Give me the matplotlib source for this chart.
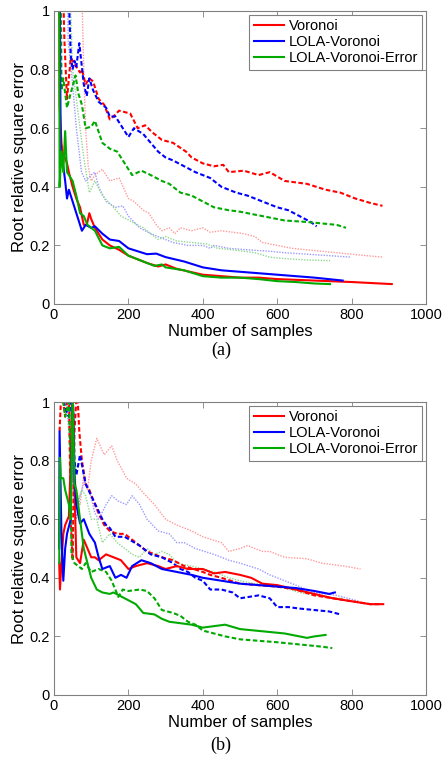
import matplotlib
matplotlib.use('Agg')
import matplotlib.pyplot as plt

plt.rcParams['font.family'] = ['Liberation Sans', 'DejaVu Sans']

# ---------------- panel (a) ----------------
a_vor_solid_x = [14, 15, 20, 25, 30, 35, 40, 50, 60, 70, 80, 88, 95, 100, 110, 130, 150, 175, 200, 250, 280, 300, 330, 400, 450, 500, 550, 600, 700, 800, 908]
a_vor_solid_y = [1.2, 0.68, 0.55, 0.5, 0.5, 0.48, 0.45, 0.4, 0.36, 0.33, 0.27, 0.27, 0.31, 0.29, 0.26, 0.22, 0.2, 0.185, 0.165, 0.14, 0.128, 0.135, 0.12, 0.1, 0.095, 0.09, 0.09, 0.085, 0.08, 0.075, 0.068]
a_lv_solid_x = [15, 18, 25, 30, 35, 40, 45, 55, 65, 75, 85, 100, 110, 130, 150, 175, 200, 225, 250, 275, 300, 350, 400, 450, 500, 550, 600, 650, 700, 776]
a_lv_solid_y = [1.2, 0.52, 0.47, 0.42, 0.36, 0.39, 0.37, 0.33, 0.29, 0.25, 0.27, 0.26, 0.265, 0.24, 0.22, 0.215, 0.19, 0.18, 0.17, 0.172, 0.16, 0.145, 0.125, 0.115, 0.11, 0.105, 0.1, 0.095, 0.09, 0.08]
a_lve_solid_x = [14, 15, 20, 25, 30, 35, 50, 60, 70, 80, 90, 100, 110, 130, 150, 175, 200, 250, 270, 290, 300, 350, 400, 450, 500, 550, 600, 650, 700, 742]
a_lve_solid_y = [1.2, 0.4, 0.52, 0.45, 0.59, 0.45, 0.42, 0.37, 0.31, 0.3, 0.27, 0.26, 0.25, 0.2, 0.19, 0.195, 0.165, 0.14, 0.13, 0.135, 0.125, 0.115, 0.095, 0.09, 0.09, 0.085, 0.078, 0.075, 0.07, 0.068]

a_vor_dash_x = [22, 28, 35, 45, 55, 70, 75, 85, 95, 105, 120, 135, 150, 160, 175, 205, 225, 245, 265, 290, 320, 355, 370, 400, 430, 455, 470, 510, 550, 580, 620, 680, 730, 770, 810, 850, 883]
a_vor_dash_y = [1.2, 0.9, 0.7, 0.84, 0.82, 0.79, 0.8, 0.75, 0.77, 0.76, 0.7, 0.68, 0.63, 0.64, 0.66, 0.65, 0.6, 0.61, 0.585, 0.56, 0.55, 0.52, 0.5, 0.48, 0.47, 0.475, 0.45, 0.455, 0.44, 0.45, 0.42, 0.41, 0.39, 0.38, 0.36, 0.345, 0.335]
a_lv_dash_x = [36, 45, 50, 55, 60, 68, 80, 88, 95, 105, 120, 140, 150, 165, 185, 200, 215, 240, 260, 280, 300, 320, 350, 380, 420, 450, 490, 520, 560, 600, 630, 660, 690, 706]
a_lv_dash_y = [1.2, 0.85, 0.8, 0.83, 0.81, 0.89, 0.75, 0.71, 0.77, 0.73, 0.69, 0.67, 0.64, 0.64, 0.6, 0.57, 0.6, 0.58, 0.55, 0.52, 0.5, 0.49, 0.47, 0.45, 0.43, 0.4, 0.38, 0.37, 0.35, 0.33, 0.32, 0.3, 0.28, 0.265]
a_lve_dash_x = [18, 20, 25, 30, 35, 45, 58, 65, 75, 85, 100, 110, 130, 150, 170, 190, 210, 235, 260, 290, 310, 340, 370, 400, 430, 470, 500, 540, 580, 620, 680, 720, 760, 785]
a_lve_dash_y = [1.2, 0.73, 0.77, 0.72, 0.67, 0.72, 0.78, 0.72, 0.68, 0.6, 0.605, 0.625, 0.55, 0.53, 0.52, 0.48, 0.44, 0.455, 0.44, 0.42, 0.41, 0.38, 0.37, 0.35, 0.33, 0.32, 0.315, 0.305, 0.295, 0.285, 0.28, 0.275, 0.27, 0.26]

a_vor_dot_x = [74, 76, 80, 85, 92, 100, 110, 130, 150, 175, 200, 215, 240, 255, 275, 290, 310, 325, 340, 370, 400, 420, 450, 480, 510, 540, 560, 600, 640, 680, 720, 760, 800, 840, 883]
a_vor_dot_y = [1.2, 1.0, 0.8, 0.6, 0.47, 0.42, 0.44, 0.46, 0.42, 0.43, 0.36, 0.35, 0.32, 0.31, 0.27, 0.25, 0.26, 0.24, 0.26, 0.25, 0.26, 0.245, 0.25, 0.245, 0.24, 0.23, 0.21, 0.2, 0.19, 0.185, 0.18, 0.175, 0.17, 0.165, 0.16]
a_lv_dot_x = [36, 38, 50, 60, 74, 85, 100, 110, 120, 140, 165, 185, 200, 230, 260, 300, 320, 360, 400, 420, 430, 470, 520, 580, 620, 680, 740, 797]
a_lv_dot_y = [1.2, 0.9, 0.75, 0.6, 0.45, 0.42, 0.44, 0.45, 0.4, 0.35, 0.33, 0.335, 0.3, 0.26, 0.24, 0.22, 0.21, 0.2, 0.2, 0.19, 0.2, 0.19, 0.185, 0.18, 0.175, 0.17, 0.165, 0.16]
a_lve_dot_x = [45, 50, 60, 70, 80, 90, 95, 110, 130, 160, 180, 210, 240, 260, 280, 300, 330, 370, 410, 440, 480, 540, 580, 620, 680, 742]
a_lve_dot_y = [1.0, 0.8, 0.7, 0.6, 0.5, 0.42, 0.38, 0.42, 0.37, 0.33, 0.3, 0.28, 0.26, 0.24, 0.22, 0.23, 0.215, 0.21, 0.205, 0.19, 0.185, 0.175, 0.16, 0.155, 0.15, 0.148]

# ---------------- panel (b) ----------------
b_vor_solid_x = [14, 16, 20, 25, 30, 40, 45, 50, 55, 60, 70, 80, 90, 100, 110, 120, 140, 160, 180, 200, 220, 250, 280, 300, 330, 360, 400, 430, 460, 500, 530, 560, 600, 650, 700, 750, 800, 850, 885]
b_vor_solid_y = [0.45, 0.36, 0.45, 0.55, 0.58, 0.61, 0.8, 1.05, 0.7, 0.47, 0.45, 0.53, 0.5, 0.47, 0.47, 0.46, 0.48, 0.47, 0.46, 0.43, 0.44, 0.45, 0.44, 0.43, 0.44, 0.43, 0.43, 0.415, 0.42, 0.41, 0.4, 0.38, 0.375, 0.36, 0.345, 0.33, 0.32, 0.31, 0.31]
b_lv_solid_x = [14, 15, 20, 25, 30, 35, 45, 50, 55, 60, 70, 80, 95, 110, 120, 130, 150, 165, 180, 195, 210, 235, 260, 290, 330, 370, 400, 450, 500, 550, 600, 650, 700, 740, 755]
b_lv_solid_y = [0.5, 0.9, 0.55, 0.39, 0.5, 0.55, 0.6, 1.05, 0.75, 0.65, 0.586, 0.6, 0.55, 0.52, 0.47, 0.43, 0.44, 0.4, 0.41, 0.4, 0.44, 0.46, 0.45, 0.43, 0.42, 0.41, 0.4, 0.39, 0.38, 0.375, 0.37, 0.365, 0.355, 0.345, 0.35]
b_lve_solid_x = [14, 16, 18, 25, 30, 40, 45, 50, 55, 60, 70, 80, 90, 100, 115, 130, 150, 160, 175, 190, 220, 240, 270, 290, 310, 340, 370, 400, 430, 460, 500, 540, 580, 620, 660, 680, 700, 730]
b_lve_solid_y = [0.45, 0.81, 0.74, 0.74, 0.7, 0.65, 0.6, 1.05, 0.72, 0.7, 0.6, 0.5, 0.45, 0.4, 0.36, 0.35, 0.345, 0.35, 0.34, 0.33, 0.31, 0.28, 0.275, 0.26, 0.25, 0.245, 0.24, 0.23, 0.235, 0.24, 0.225, 0.22, 0.215, 0.21, 0.2, 0.195, 0.2, 0.205]

b_vor_dash_x = [15, 20, 30, 40, 45, 50, 55, 62, 68, 75, 85, 95, 110, 120, 135, 150, 170, 190, 220, 250, 290, 320, 350, 400, 420, 450, 500, 550, 600, 650, 700, 750, 800, 850, 880]
b_vor_dash_y = [0.9, 1.05, 0.95, 1.05, 0.6, 0.46, 0.9, 1.05, 0.9, 0.8, 0.72, 0.7, 0.65, 0.62, 0.58, 0.56, 0.55, 0.55, 0.52, 0.49, 0.47, 0.46, 0.44, 0.42, 0.41, 0.4, 0.38, 0.375, 0.37, 0.36, 0.34, 0.33, 0.32, 0.31, 0.31]
b_lv_dash_x = [20, 30, 40, 50, 55, 60, 70, 85, 100, 115, 130, 140, 150, 165, 190, 230, 260, 290, 320, 340, 360, 380, 400, 420, 450, 480, 500, 550, 580, 600, 630, 660, 700, 740, 770]
b_lv_dash_y = [1.05, 0.98, 0.95, 1.05, 0.8, 0.75, 0.82, 0.72, 0.68, 0.64, 0.6, 0.58, 0.57, 0.54, 0.54, 0.51, 0.48, 0.47, 0.45, 0.43, 0.42, 0.4, 0.39, 0.36, 0.36, 0.35, 0.33, 0.34, 0.33, 0.3, 0.3, 0.295, 0.29, 0.285, 0.275]
b_lve_dash_x = [20, 30, 40, 45, 47, 55, 65, 75, 85, 100, 120, 140, 155, 173, 185, 200, 230, 250, 270, 290, 320, 340, 360, 380, 400, 430, 460, 500, 550, 600, 640, 680, 720, 748]
b_lve_dash_y = [1.05, 0.95, 1.0, 0.8, 0.478, 0.45, 0.44, 0.43, 0.45, 0.42, 0.43, 0.42, 0.39, 0.335, 0.36, 0.355, 0.36, 0.355, 0.33, 0.29, 0.28, 0.27, 0.25, 0.24, 0.22, 0.21, 0.2, 0.19, 0.185, 0.18, 0.175, 0.17, 0.165, 0.16]

b_vor_dot_x = [40, 50, 60, 70, 80, 90, 100, 115, 135, 155, 170, 195, 220, 240, 270, 300, 330, 370, 400, 450, 470, 500, 520, 560, 580, 620, 680, 720, 780, 824]
b_vor_dot_y = [1.05, 0.85, 0.7, 0.65, 0.75, 0.7, 0.8, 0.876, 0.82, 0.85, 0.8, 0.74, 0.72, 0.69, 0.65, 0.6, 0.58, 0.56, 0.54, 0.52, 0.49, 0.5, 0.51, 0.49, 0.49, 0.47, 0.465, 0.45, 0.44, 0.43]
b_lv_dot_x = [30, 40, 50, 60, 70, 82, 95, 110, 120, 140, 155, 175, 195, 210, 230, 250, 280, 310, 330, 350, 380, 430, 470, 500, 550, 580, 620, 660, 700, 760, 820]
b_lv_dot_y = [1.05, 0.9, 0.75, 0.6, 0.68, 0.73, 0.7, 0.62, 0.6, 0.65, 0.68, 0.66, 0.65, 0.68, 0.65, 0.6, 0.56, 0.55, 0.52, 0.52, 0.5, 0.48, 0.46, 0.45, 0.43, 0.41, 0.39, 0.37, 0.35, 0.34, 0.32]
b_lve_dot_x = [40, 45, 55, 60, 75, 85, 100, 115, 130, 150, 170, 190, 210, 230, 250, 270, 290, 310, 330, 370, 400, 430, 470, 500, 540, 580, 620, 660, 700, 760, 780]
b_lve_dot_y = [1.05, 0.9, 0.7, 0.65, 0.7, 0.68, 0.6, 0.6, 0.52, 0.55, 0.52, 0.5, 0.48, 0.47, 0.5, 0.48, 0.49, 0.48, 0.45, 0.44, 0.43, 0.42, 0.4, 0.39, 0.38, 0.375, 0.365, 0.35, 0.34, 0.33, 0.33]

names = ['Voronoi', 'LOLA-Voronoi', 'LOLA-Voronoi-Error']
colors = ['#ff0000', '#0000ff', '#00aa00']
light = ['#ff9a9a', '#9a9aff', '#8fd88f']
xticks = [0, 200, 400, 600, 800, 1000]
yticks = [0, 0.2, 0.4, 0.6, 0.8, 1]
ytick_labels = ['0', '0.2', '0.4', '0.6', '0.8', '1']

panels = [
    dict(solid=[(a_vor_solid_x, a_vor_solid_y), (a_lv_solid_x, a_lv_solid_y), (a_lve_solid_x, a_lve_solid_y)],
         dash=[(a_vor_dash_x, a_vor_dash_y), (a_lv_dash_x, a_lv_dash_y), (a_lve_dash_x, a_lve_dash_y)],
         dot=[(a_vor_dot_x, a_vor_dot_y), (a_lv_dot_x, a_lv_dot_y), (a_lve_dot_x, a_lve_dot_y)],
         tag='(a)'),
    dict(solid=[(b_vor_solid_x, b_vor_solid_y), (b_lv_solid_x, b_lv_solid_y), (b_lve_solid_x, b_lve_solid_y)],
         dash=[(b_vor_dash_x, b_vor_dash_y), (b_lv_dash_x, b_lv_dash_y), (b_lve_dash_x, b_lve_dash_y)],
         dot=[(b_vor_dot_x, b_vor_dot_y), (b_lv_dot_x, b_lv_dot_y), (b_lve_dot_x, b_lve_dot_y)],
         tag='(b)'),
]

fig = plt.figure(figsize=(4.42, 7.68), dpi=100)
rects = [[54/442, 1-304/768, 372/442, 293/768], [54/442, 1-695/768, 372/442, 293/768]]
tag_y = [1-350/768, 1-745/768]

for p, rect, ty in zip(panels, rects, tag_y):
    ax = fig.add_axes(rect)
    for i in range(3):
        x, y = p['dot'][i]
        ax.plot(x, y, color=light[i], lw=1.0, ls=(0, (1, 1)))
    for i in range(3):
        x, y = p['dash'][i]
        ax.plot(x, y, color=colors[i], lw=1.5, ls=(0, (2.2, 1.2)))
    for i in range(3):
        x, y = p['solid'][i]
        ax.plot(x, y, color=colors[i], lw=1.5, label=names[i])
    ax.set_xlim(0, 1000); ax.set_ylim(0, 1)
    ax.set_xticks(xticks); ax.set_yticks(yticks)
    ax.set_yticklabels(ytick_labels)
    ax.tick_params(direction='in', top=True, right=True, length=4, width=0.6,
                   color='#808080', labelsize=10.5, pad=3)
    for s in ax.spines.values():
        s.set_color('#808080'); s.set_linewidth(0.8)
    ax.set_xlabel('Number of samples', fontsize=12, labelpad=1.5)
    ax.set_ylabel('Root relative square error', fontsize=12, labelpad=2)
    leg = ax.legend(loc='upper right', fontsize=10.5, fancybox=False, framealpha=1,
                    borderaxespad=0.25, handlelength=2.1, handletextpad=0.3,
                    labelspacing=0.15, borderpad=0.3)
    leg.get_frame().set_edgecolor('#808080'); leg.get_frame().set_linewidth(0.8)
    fig.text(0.5, ty, p['tag'], ha='center', va='center', fontsize=13,
             family=['Liberation Serif', 'DejaVu Serif'])

fig.savefig('out.png', dpi=100)
